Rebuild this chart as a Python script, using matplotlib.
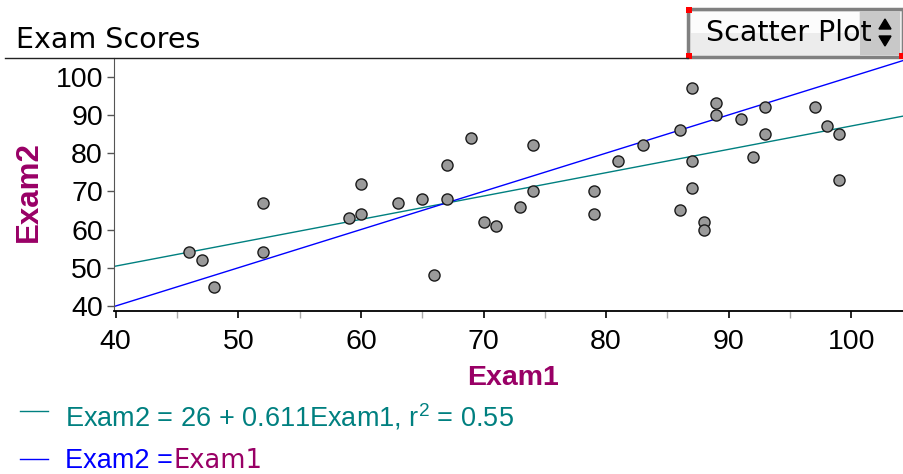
import matplotlib
matplotlib.use("Agg")
import matplotlib.pyplot as plt
from matplotlib.patches import Rectangle, Polygon
from matplotlib.lines import Line2D
import numpy as np

plt.rcParams["mathtext.default"] = "regular"

# Exam scores
exam1 = [46, 47, 48, 52, 52, 59, 60, 60, 63, 65, 66, 67, 67, 69, 70, 71, 73, 74, 74, 79,
         79, 81, 83, 86, 86, 87, 87, 87, 88, 88, 89, 89, 91, 92, 93, 93, 97, 98, 99, 99]
exam2 = [54, 52, 45, 67, 54, 63, 64, 72, 67, 68, 48, 77, 68, 84, 62, 61, 66, 82, 70, 70,
         64, 78, 82, 86, 65, 97, 78, 71, 62, 60, 93, 90, 89, 79, 92, 85, 92, 87, 85, 73]

# fitted line shown in the legend
intercept = 26
slope = 0.611
r_squared = 0.55

x_ticks = [40, 50, 60, 70, 80, 90, 100]
y_ticks = [40, 50, 60, 70, 80, 90, 100]

TEAL = "#008080"
BLUE = "#0000ff"
PURPLE = "#990066"

W, H = 904, 474


def fx(px):
    return px / W


def fy(py):
    return 1 - py / H


fig = plt.figure(figsize=(W / 100, H / 100), dpi=100)
ax = fig.add_axes([fx(114), fy(311), fx(904) - fx(114), fy(58) - fy(311)])

xlim = (39.86, 104.3)
ax.set_xlim(*xlim)
ax.set_ylim(38.69, 104.89)

# lines: least squares fit and Exam2 = Exam1
xs = np.array(xlim)
ax.plot(xs, intercept + slope * xs, color=TEAL, lw=1, zorder=2)
ax.plot(xs, xs, color=BLUE, lw=1, zorder=2)

ax.plot(exam1, exam2, "o", ms=8, mfc="#9a9a9a", mec="#1a1a1a", mew=1, zorder=3,
        clip_on=False)

ax.spines["top"].set_visible(False)
ax.spines["right"].set_visible(False)
ax.spines["left"].set_color("#555555")
ax.spines["bottom"].set_color("black")
ax.spines["bottom"].set_linewidth(1.3)

ax.set_xticks(x_ticks)
ax.set_xticks([45, 55, 65, 75, 85, 95], minor=True)
ax.set_yticks(y_ticks)
ax.tick_params(axis="x", which="major", length=5, width=1.2, color="black",
               labelsize=20.5, pad=8)
ax.tick_params(axis="x", which="minor", length=5, width=1, color="#aaaaaa")
ax.tick_params(axis="y", length=5, width=1, color="#555555", labelsize=20.5, pad=3)
for lab in ax.get_xticklabels() + ax.get_yticklabels():
    lab.set_fontfamily("Liberation Sans")

# axis labels
fig.text(fx(513), fy(378), "Exam1", color=PURPLE, fontsize=20.5, fontweight="bold",
         family="Liberation Sans", ha="center", va="center")
fig.text(fx(29), fy(192), "Exam2", color=PURPLE, fontsize=22.5, fontweight="bold",
         family="Liberation Sans", ha="center", va="center", rotation=90)

# header
fig.text(fx(16), fy(40), "Exam Scores", fontsize=20.5, family="DejaVu Sans",
         ha="left", va="center")
fig.add_artist(Line2D([fx(5), fx(688)], [fy(58), fy(58)], color="#222222", lw=1))

# "Scatter Plot" selector button
fig.add_artist(Rectangle((fx(688), fy(57)), fx(903) - fx(688), fy(9) - fy(57),
                         facecolor="#ececec", edgecolor="#808080", lw=2.5))
fig.add_artist(Rectangle((fx(860), fy(55)), fx(900) - fx(860), fy(11) - fy(55),
                         facecolor="#c8c8c8", edgecolor="none"))
fig.add_artist(Rectangle((fx(691), fy(33)), fx(859) - fx(691), fy(12) - fy(33),
                         facecolor="white", edgecolor="none", alpha=0.85))
fig.text(fx(706), fy(33), "Scatter Plot", fontsize=20.5, family="DejaVu Sans",
         ha="left", va="center")
fig.add_artist(Polygon([(fx(879), fy(29)), (fx(891), fy(29)), (fx(885), fy(19))],
                       closed=True, facecolor="black", edgecolor="black"))
fig.add_artist(Polygon([(fx(879), fy(36)), (fx(891), fy(36)), (fx(885), fy(46))],
                       closed=True, facecolor="black", edgecolor="black"))
for cx, cy in [(689, 10), (689, 56), (902, 56)]:
    fig.add_artist(Rectangle((fx(cx - 3), fy(cy + 3)), fx(6), fy(0) - fy(6),
                             facecolor="red", edgecolor="none"))

# legend lines
fig.add_artist(Line2D([fx(20), fx(48)], [fy(411), fy(411)], color=TEAL, lw=1))
fig.add_artist(Line2D([fx(20), fx(48)], [fy(459), fy(459)], color=BLUE, lw=1))

fig.text(fx(65), fy(427), "Exam2 = %d + %.3fExam1, r$^2$ = %.2f" % (intercept, slope, r_squared),
         color=TEAL, fontsize=19.5, family="Liberation Sans", ha="left", va="baseline")

fig.canvas.draw()
renderer = fig.canvas.get_renderer()
t2 = fig.text(fx(65), fy(468), "Exam2 =", color=BLUE, fontsize=19.5,
              family="Liberation Sans", ha="left", va="baseline")
x_end = t2.get_window_extent(renderer).x1
fig.text((x_end + 1) / W, fy(468), "Exam1", color=PURPLE, fontsize=18.5,
         family="DejaVu Sans", ha="left", va="baseline")

fig.savefig("out.png", dpi=100)
